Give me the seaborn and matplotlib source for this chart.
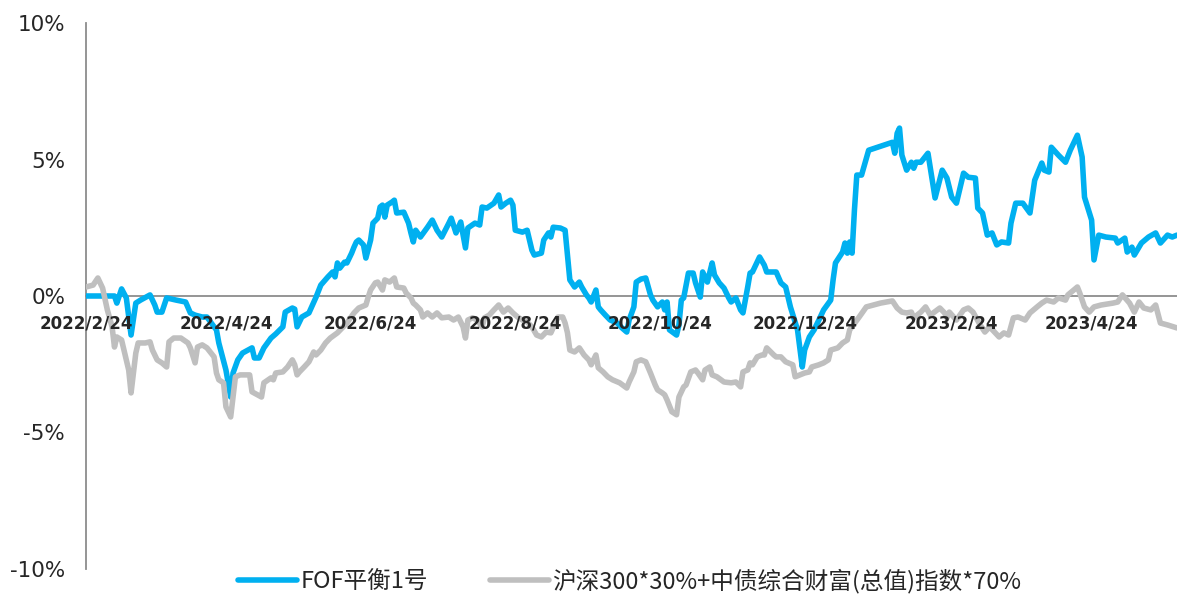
import pandas as pd
import numpy as np
import matplotlib
matplotlib.use("Agg")
import matplotlib.pyplot as plt
import seaborn as sns

# 数据：FOF平衡1号 累计收益 (%)
fof_dates = [
    "2022-02-24", "2022-03-08", "2022-03-09", "2022-03-11", "2022-03-13", "2022-03-15", "2022-03-17",
    "2022-03-19", "2022-03-23", "2022-03-25", "2022-03-26", "2022-03-28", "2022-03-30", "2022-04-03",
    "2022-04-07", "2022-04-09", "2022-04-11", "2022-04-14", "2022-04-16", "2022-04-19", "2022-04-20",
    "2022-04-21", "2022-04-24", "2022-04-26", "2022-04-27", "2022-04-29", "2022-05-01", "2022-05-05",
    "2022-05-06", "2022-05-08", "2022-05-10", "2022-05-13", "2022-05-15", "2022-05-18", "2022-05-19",
    "2022-05-22", "2022-05-23", "2022-05-24", "2022-05-26", "2022-05-29", "2022-06-01", "2022-06-03",
    "2022-06-06", "2022-06-08", "2022-06-09", "2022-06-10", "2022-06-11", "2022-06-13", "2022-06-14",
    "2022-06-16", "2022-06-17", "2022-06-18", "2022-06-19", "2022-06-21", "2022-06-22", "2022-06-24",
    "2022-06-25", "2022-06-27", "2022-06-28", "2022-06-29", "2022-06-30", "2022-07-01", "2022-07-03",
    "2022-07-04", "2022-07-05", "2022-07-08", "2022-07-10", "2022-07-11", "2022-07-12", "2022-07-13",
    "2022-07-15", "2022-07-18", "2022-07-20", "2022-07-22", "2022-07-24", "2022-07-27", "2022-07-28",
    "2022-07-30", "2022-08-01", "2022-08-03", "2022-08-04", "2022-08-07", "2022-08-09", "2022-08-10",
    "2022-08-12", "2022-08-15", "2022-08-17", "2022-08-18", "2022-08-20", "2022-08-22", "2022-08-23",
    "2022-08-24", "2022-08-27", "2022-08-29", "2022-08-31", "2022-09-01", "2022-09-04", "2022-09-05",
    "2022-09-07", "2022-09-08", "2022-09-09", "2022-09-12", "2022-09-14", "2022-09-16", "2022-09-18",
    "2022-09-20", "2022-09-21", "2022-09-23", "2022-09-24", "2022-09-25", "2022-09-27", "2022-09-28",
    "2022-09-29", "2022-10-01", "2022-10-03", "2022-10-06", "2022-10-08", "2022-10-10", "2022-10-11",
    "2022-10-13", "2022-10-14", "2022-10-16", "2022-10-18", "2022-10-20", "2022-10-21", "2022-10-23",
    "2022-10-25", "2022-10-26", "2022-10-27", "2022-10-28", "2022-10-31", "2022-11-01", "2022-11-02",
    "2022-11-03", "2022-11-05", "2022-11-07", "2022-11-08", "2022-11-10", "2022-11-11", "2022-11-13",
    "2022-11-15", "2022-11-16", "2022-11-18", "2022-11-20", "2022-11-22", "2022-11-23", "2022-11-25",
    "2022-11-27", "2022-11-28", "2022-11-30", "2022-12-01", "2022-12-02", "2022-12-05", "2022-12-07",
    "2022-12-08", "2022-12-12", "2022-12-14", "2022-12-16", "2022-12-18", "2022-12-21", "2022-12-23",
    "2022-12-24", "2022-12-26", "2022-12-28", "2022-12-30", "2023-01-01", "2023-01-04", "2023-01-05",
    "2023-01-06", "2023-01-09", "2023-01-10", "2023-01-11", "2023-01-12", "2023-01-13", "2023-01-14",
    "2023-01-15", "2023-01-17", "2023-01-20", "2023-01-30", "2023-01-31", "2023-02-01", "2023-02-02",
    "2023-02-03", "2023-02-05", "2023-02-07", "2023-02-08", "2023-02-09", "2023-02-11", "2023-02-14",
    "2023-02-17", "2023-02-20", "2023-02-22", "2023-02-24", "2023-02-26", "2023-03-01", "2023-03-03",
    "2023-03-06", "2023-03-07", "2023-03-09", "2023-03-11", "2023-03-13", "2023-03-15", "2023-03-17",
    "2023-03-20", "2023-03-21", "2023-03-23", "2023-03-26", "2023-03-29", "2023-03-31", "2023-04-03",
    "2023-04-04", "2023-04-06", "2023-04-07", "2023-04-10", "2023-04-13", "2023-04-15", "2023-04-18",
    "2023-04-20", "2023-04-21", "2023-04-24", "2023-04-25", "2023-04-27", "2023-04-30", "2023-05-04",
    "2023-05-05", "2023-05-08", "2023-05-09", "2023-05-11", "2023-05-12", "2023-05-15", "2023-05-18",
    "2023-05-21", "2023-05-23", "2023-05-26", "2023-05-28", "2023-05-30",
]
fof_values = [
    0.00, 0.00, -0.26, 0.26, -0.07, -1.43, -0.26,
    -0.15, 0.04, -0.33, -0.59, -0.59, -0.07, -0.15,
    -0.22, -0.62, -0.70, -0.77, -0.77, -1.13, -1.24,
    -1.72, -2.71, -3.70, -2.82, -2.34, -2.09, -1.90,
    -2.27, -2.27, -1.90, -1.54, -1.39, -1.13, -0.59,
    -0.44, -0.48, -1.13, -0.77, -0.62, -0.04, 0.40,
    0.70, 0.88, 0.70, 1.21, 1.02, 1.24, 1.21,
    1.57, 1.79, 1.98, 2.05, 1.87, 1.39, 2.05,
    2.67, 2.85, 3.26, 3.33, 2.89, 3.33, 3.44,
    3.51, 3.04, 3.07, 2.67, 2.31, 1.98, 2.41,
    2.16, 2.52, 2.78, 2.41, 2.16, 2.67, 2.85,
    2.31, 2.71, 1.76, 2.49, 2.67, 2.60, 3.26,
    3.22, 3.40, 3.70, 3.26, 3.40, 3.51, 3.33,
    2.41, 2.34, 2.41, 1.68, 1.50, 1.57, 2.05,
    2.31, 2.16, 2.52, 2.49, 2.41, 0.59, 0.33,
    0.51, 0.33, 0.04, -0.07, -0.22, 0.22, -0.40,
    -0.51, -0.70, -0.88, -0.99, -1.17, -1.32, -0.88,
    -0.40, 0.51, 0.62, 0.66, 0.04, -0.15, -0.40,
    -0.22, -0.51, -0.22, -1.24, -1.43, -1.06, -0.15,
    -0.07, 0.84, 0.84, 0.48, -0.04, 0.88, 0.51,
    1.21, 0.77, 0.48, 0.29, -0.07, -0.22, -0.07,
    -0.51, -0.62, 0.33, 0.84, 0.88, 1.43, 1.13,
    0.88, 0.88, 0.48, 0.33, -0.40, -1.24, -2.60,
    -1.98, -1.50, -1.24, -0.88, -0.51, -0.15, 0.59,
    1.21, 1.61, 1.94, 1.57, 1.98, 1.57, 3.15,
    4.43, 4.43, 5.34, 5.63, 5.23, 5.96, 6.15,
    5.16, 4.61, 4.90, 4.68, 4.90, 4.90, 5.23,
    3.59, 4.61, 4.32, 3.62, 3.40, 4.50, 4.35,
    4.32, 3.22, 3.04, 2.23, 2.31, 1.87, 1.98,
    1.94, 2.67, 3.40, 3.40, 3.04, 4.24, 4.87,
    4.61, 4.54, 5.45, 5.16, 4.90, 5.34, 5.89,
    5.09, 3.62, 2.78, 1.32, 2.23, 2.16, 2.12,
    1.94, 2.12, 1.61, 1.79, 1.50, 1.94, 2.16,
    2.31, 1.94, 2.23, 2.16, 2.23,
]

# 数据：沪深300*30%+中债综合财富(总值)指数*70% 累计收益 (%)
bench_dates = [
    "2022-02-24", "2022-02-27", "2022-03-01", "2022-03-03", "2022-03-05", "2022-03-07", "2022-03-08",
    "2022-03-09", "2022-03-11", "2022-03-12", "2022-03-14", "2022-03-15", "2022-03-17", "2022-03-18",
    "2022-03-21", "2022-03-23", "2022-03-24", "2022-03-26", "2022-03-28", "2022-03-30", "2022-03-31",
    "2022-04-02", "2022-04-05", "2022-04-08", "2022-04-09", "2022-04-11", "2022-04-12", "2022-04-14",
    "2022-04-16", "2022-04-19", "2022-04-20", "2022-04-21", "2022-04-23", "2022-04-24", "2022-04-26",
    "2022-04-27", "2022-04-28", "2022-04-30", "2022-05-04", "2022-05-05", "2022-05-09", "2022-05-10",
    "2022-05-13", "2022-05-14", "2022-05-15", "2022-05-18", "2022-05-20", "2022-05-22", "2022-05-23",
    "2022-05-24", "2022-05-25", "2022-05-27", "2022-05-29", "2022-05-31", "2022-06-01", "2022-06-03",
    "2022-06-05", "2022-06-07", "2022-06-10", "2022-06-12", "2022-06-14", "2022-06-17", "2022-06-19",
    "2022-06-22", "2022-06-23", "2022-06-24", "2022-06-26", "2022-06-27", "2022-06-29", "2022-06-30",
    "2022-07-02", "2022-07-04", "2022-07-05", "2022-07-08", "2022-07-09", "2022-07-11", "2022-07-12",
    "2022-07-13", "2022-07-15", "2022-07-16", "2022-07-18", "2022-07-20", "2022-07-22", "2022-07-24",
    "2022-07-27", "2022-07-29", "2022-07-31", "2022-08-02", "2022-08-03", "2022-08-04", "2022-08-06",
    "2022-08-08", "2022-08-10", "2022-08-11", "2022-08-13", "2022-08-15", "2022-08-17", "2022-08-19",
    "2022-08-21", "2022-08-23", "2022-08-25", "2022-08-27", "2022-08-29", "2022-08-31", "2022-09-02",
    "2022-09-04", "2022-09-06", "2022-09-08", "2022-09-11", "2022-09-13", "2022-09-14", "2022-09-15",
    "2022-09-16", "2022-09-18", "2022-09-20", "2022-09-22", "2022-09-24", "2022-09-25", "2022-09-27",
    "2022-09-28", "2022-09-30", "2022-10-02", "2022-10-04", "2022-10-07", "2022-10-10", "2022-10-11",
    "2022-10-13", "2022-10-14", "2022-10-16", "2022-10-18", "2022-10-20", "2022-10-22", "2022-10-23",
    "2022-10-25", "2022-10-26", "2022-10-27", "2022-10-29", "2022-10-31", "2022-11-01", "2022-11-03",
    "2022-11-04", "2022-11-06", "2022-11-08", "2022-11-09", "2022-11-11", "2022-11-12", "2022-11-14",
    "2022-11-15", "2022-11-17", "2022-11-20", "2022-11-23", "2022-11-25", "2022-11-27", "2022-11-28",
    "2022-11-30", "2022-12-01", "2022-12-02", "2022-12-04", "2022-12-06", "2022-12-07", "2022-12-08",
    "2022-12-11", "2022-12-12", "2022-12-14", "2022-12-16", "2022-12-19", "2022-12-20", "2022-12-22",
    "2022-12-24", "2022-12-26", "2022-12-27", "2022-12-30", "2023-01-01", "2023-01-03", "2023-01-04",
    "2023-01-07", "2023-01-09", "2023-01-11", "2023-01-12", "2023-01-16", "2023-01-19", "2023-01-25",
    "2023-01-30", "2023-02-01", "2023-02-03", "2023-02-05", "2023-02-07", "2023-02-08", "2023-02-11",
    "2023-02-13", "2023-02-15", "2023-02-19", "2023-02-21", "2023-02-22", "2023-02-23", "2023-02-26",
    "2023-03-01", "2023-03-03", "2023-03-05", "2023-03-08", "2023-03-10", "2023-03-12", "2023-03-16",
    "2023-03-18", "2023-03-20", "2023-03-22", "2023-03-24", "2023-03-27", "2023-03-29", "2023-04-01",
    "2023-04-03", "2023-04-05", "2023-04-08", "2023-04-10", "2023-04-13", "2023-04-14", "2023-04-18",
    "2023-04-19", "2023-04-21", "2023-04-23", "2023-04-25", "2023-04-28", "2023-05-03", "2023-05-05",
    "2023-05-07", "2023-05-10", "2023-05-12", "2023-05-14", "2023-05-16", "2023-05-19", "2023-05-21",
    "2023-05-23", "2023-05-26", "2023-05-30",
]
bench_values = [
    0.33, 0.40, 0.66, 0.29, -0.51, -1.13, -1.87,
    -1.50, -1.61, -1.98, -2.71, -3.55, -2.09, -1.72,
    -1.72, -1.68, -1.98, -2.34, -2.45, -2.60, -1.68,
    -1.54, -1.54, -1.72, -1.90, -2.45, -1.87, -1.79,
    -1.90, -2.23, -2.82, -3.07, -3.18, -4.06, -4.43,
    -3.70, -2.96, -2.89, -2.89, -3.51, -3.70, -3.18,
    -3.00, -3.07, -2.82, -2.78, -2.60, -2.34, -2.52,
    -2.89, -2.78, -2.60, -2.41, -2.05, -2.16, -1.98,
    -1.72, -1.54, -1.35, -1.17, -0.99, -0.62, -0.44,
    -0.33, -0.04, 0.22, 0.48, 0.51, 0.22, 0.59,
    0.51, 0.66, 0.33, 0.29, 0.11, -0.07, -0.26,
    -0.33, -0.51, -0.77, -0.62, -0.77, -0.62, -0.80,
    -0.77, -0.88, -0.77, -1.13, -1.54, -0.88, -0.80,
    -0.88, -1.13, -0.80, -0.70, -0.51, -0.33, -0.59,
    -0.44, -0.62, -0.77, -0.88, -0.95, -1.13, -1.43,
    -1.50, -1.32, -1.35, -0.77, -0.77, -0.99, -1.35,
    -1.98, -2.05, -1.90, -2.16, -2.34, -2.52, -2.16,
    -2.63, -2.78, -2.96, -3.07, -3.18, -3.37, -3.15,
    -2.78, -2.41, -2.34, -2.41, -2.82, -3.26, -3.44,
    -3.55, -3.62, -3.81, -4.24, -4.35, -3.70, -3.33,
    -3.26, -2.78, -2.71, -2.82, -3.07, -2.71, -2.60,
    -2.89, -2.96, -3.15, -3.18, -3.15, -3.33, -2.78,
    -2.71, -2.45, -2.52, -2.23, -2.16, -2.16, -1.90,
    -2.16, -2.23, -2.23, -2.41, -2.52, -2.96, -2.89,
    -2.82, -2.78, -2.60, -2.52, -2.45, -2.34, -1.98,
    -1.90, -1.72, -1.61, -1.24, -0.77, -0.40, -0.26,
    -0.18, -0.44, -0.59, -0.62, -0.59, -0.80, -0.59,
    -0.40, -0.70, -0.44, -0.62, -0.80, -0.59, -0.88,
    -0.51, -0.44, -0.59, -1.06, -1.32, -1.13, -1.50,
    -1.35, -1.43, -0.80, -0.77, -0.88, -0.62, -0.40,
    -0.26, -0.15, -0.22, -0.07, -0.15, 0.04, 0.33,
    0.11, -0.40, -0.59, -0.40, -0.33, -0.26, -0.22,
    0.04, -0.26, -0.59, -0.22, -0.44, -0.51, -0.33,
    -0.99, -1.06, -1.17,
]

series_names = ["FOF平衡1号", "沪深300*30%+中债综合财富(总值)指数*70%"]
series_colors = ["#00B0F0", "#BFBFBF"]

tick_dates = ["2022-02-24", "2022-04-24", "2022-06-24", "2022-08-24", "2022-10-24",
              "2022-12-24", "2023-02-24", "2023-04-24"]
tick_labels = ["2022/2/24", "2022/4/24", "2022/6/24", "2022/8/24", "2022/10/24",
               "2022/12/24", "2023/2/24", "2023/4/24"]
ytick_values = [-10, -5, 0, 5, 10]
ytick_labels = ["-10%", "-5%", "0%", "5%", "10%"]

# 整理成长表
df = pd.concat([
    pd.DataFrame({"date": pd.to_datetime(fof_dates), "value": fof_values, "series": series_names[0]}),
    pd.DataFrame({"date": pd.to_datetime(bench_dates), "value": bench_values, "series": series_names[1]}),
], ignore_index=True)

sns.set_style("white")
plt.rcParams["font.family"] = ["DejaVu Sans"]

fig = plt.figure(figsize=(11.77, 5.96), dpi=100)
ax = fig.add_axes([86 / 1177, 1 - 569 / 596, 1 - 86 / 1177, (569 - 23) / 596])

lw = 4.0
sns.lineplot(data=df, x="date", y="value", hue="series", hue_order=series_names,
             palette=dict(zip(series_names, series_colors)), linewidth=lw,
             estimator=None, ax=ax, legend=False)

ax.set_xlim(pd.Timestamp("2022-02-24"), pd.Timestamp("2023-05-30"))
ax.set_ylim(-10, 10)
ax.set_xlabel("")
ax.set_ylabel("")
ax.set_axisbelow(False)

# 坐标轴样式
for side in ["top", "right"]:
    ax.spines[side].set_visible(False)
ax.spines["bottom"].set_position(("data", 0))
for side in ["left", "bottom"]:
    ax.spines[side].set_color("#8C8C8C")
    ax.spines[side].set_linewidth(1.3)
    ax.spines[side].set_zorder(1.5)

ax.set_yticks(ytick_values)
ax.set_yticklabels(ytick_labels, fontsize=15.5)
ax.set_xticks(pd.to_datetime(tick_dates))
ax.set_xticklabels(tick_labels, fontsize=12, fontweight="bold")
ax.tick_params(axis="both", direction="out", length=5, width=1.3, color="#8C8C8C")
ax.tick_params(axis="x", pad=8)
ax.tick_params(axis="y", pad=10)

# 图例
handles = [plt.Line2D([], [], color=c, linewidth=lw) for c in series_colors]
fig.legend(handles, series_names, loc="center", bbox_to_anchor=(0.535, 0.025),
           ncol=2, frameon=False, handlelength=2.5, handletextpad=0.15, columnspacing=2.6,
           prop={"family": ["Noto Sans CJK SC", "DejaVu Sans"], "size": 17})

fig.savefig("out.png", dpi=100)
